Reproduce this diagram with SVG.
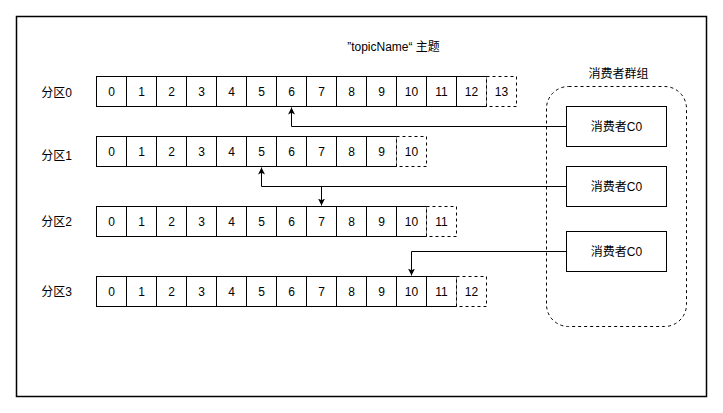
<svg xmlns="http://www.w3.org/2000/svg" width="723" height="413" viewBox="0 0 723 413">
<style>
text{font-family:"Liberation Sans","Noto Sans CJK SC",sans-serif;font-size:12px;fill:#000;text-anchor:middle;dominant-baseline:central}
.c{fill:#fff;stroke:#000;stroke-width:1}
.d{fill:#fff;stroke:#000;stroke-width:1;stroke-dasharray:3 3}
.e{fill:none;stroke:#000;stroke-width:1}
</style>
<defs>
<marker id="a" markerWidth="8" markerHeight="8" refX="7" refY="4" orient="auto" markerUnits="userSpaceOnUse">
<path d="M0,0.5 L7,4 L0,7.5 L1.8,4 Z" fill="#000"/>
</marker>
</defs>
<rect width="723" height="413" fill="#fff"/>
<g transform="translate(0.5,0.5)">
<g id="frame"><rect x="16" y="16" width="690" height="380" fill="none" stroke="#000" stroke-width="1.5"/></g>
<g id="title"><text x="393" y="46">”topicName“ 主题</text></g>
<g id="group">
<rect x="546" y="86" width="140" height="240" rx="22" class="d" fill="none"/>
<text x="618" y="73">消费者群组</text>
</g>
<g id="p0">
<text x="56" y="92">分区0</text>
<rect class="c" x="96" y="76" width="30" height="30"/><text x="111" y="91">0</text>
<rect class="c" x="126" y="76" width="30" height="30"/><text x="141" y="91">1</text>
<rect class="c" x="156" y="76" width="30" height="30"/><text x="171" y="91">2</text>
<rect class="c" x="186" y="76" width="30" height="30"/><text x="201" y="91">3</text>
<rect class="c" x="216" y="76" width="30" height="30"/><text x="231" y="91">4</text>
<rect class="c" x="246" y="76" width="30" height="30"/><text x="261" y="91">5</text>
<rect class="c" x="276" y="76" width="30" height="30"/><text x="291" y="91">6</text>
<rect class="c" x="306" y="76" width="30" height="30"/><text x="321" y="91">7</text>
<rect class="c" x="336" y="76" width="30" height="30"/><text x="351" y="91">8</text>
<rect class="c" x="366" y="76" width="30" height="30"/><text x="381" y="91">9</text>
<rect class="c" x="396" y="76" width="30" height="30"/><text x="411" y="91">10</text>
<rect class="c" x="426" y="76" width="30" height="30"/><text x="441" y="91">11</text>
<rect class="c" x="456" y="76" width="30" height="30"/><text x="471" y="91">12</text>
<rect class="d" x="486" y="76" width="30" height="30"/><text x="501" y="91">13</text>
</g>
<g id="p1">
<text x="56" y="155">分区1</text>
<rect class="c" x="96" y="136" width="30" height="30"/><text x="111" y="151">0</text>
<rect class="c" x="126" y="136" width="30" height="30"/><text x="141" y="151">1</text>
<rect class="c" x="156" y="136" width="30" height="30"/><text x="171" y="151">2</text>
<rect class="c" x="186" y="136" width="30" height="30"/><text x="201" y="151">3</text>
<rect class="c" x="216" y="136" width="30" height="30"/><text x="231" y="151">4</text>
<rect class="c" x="246" y="136" width="30" height="30"/><text x="261" y="151">5</text>
<rect class="c" x="276" y="136" width="30" height="30"/><text x="291" y="151">6</text>
<rect class="c" x="306" y="136" width="30" height="30"/><text x="321" y="151">7</text>
<rect class="c" x="336" y="136" width="30" height="30"/><text x="351" y="151">8</text>
<rect class="c" x="366" y="136" width="30" height="30"/><text x="381" y="151">9</text>
<rect class="d" x="396" y="136" width="30" height="30"/><text x="411" y="151">10</text>
</g>
<g id="p2">
<text x="56" y="221">分区2</text>
<rect class="c" x="96" y="206" width="30" height="30"/><text x="111" y="221">0</text>
<rect class="c" x="126" y="206" width="30" height="30"/><text x="141" y="221">1</text>
<rect class="c" x="156" y="206" width="30" height="30"/><text x="171" y="221">2</text>
<rect class="c" x="186" y="206" width="30" height="30"/><text x="201" y="221">3</text>
<rect class="c" x="216" y="206" width="30" height="30"/><text x="231" y="221">4</text>
<rect class="c" x="246" y="206" width="30" height="30"/><text x="261" y="221">5</text>
<rect class="c" x="276" y="206" width="30" height="30"/><text x="291" y="221">6</text>
<rect class="c" x="306" y="206" width="30" height="30"/><text x="321" y="221">7</text>
<rect class="c" x="336" y="206" width="30" height="30"/><text x="351" y="221">8</text>
<rect class="c" x="366" y="206" width="30" height="30"/><text x="381" y="221">9</text>
<rect class="c" x="396" y="206" width="30" height="30"/><text x="411" y="221">10</text>
<rect class="d" x="426" y="206" width="30" height="30"/><text x="441" y="221">11</text>
</g>
<g id="p3">
<text x="56" y="291">分区3</text>
<rect class="c" x="96" y="276" width="30" height="30"/><text x="111" y="291">0</text>
<rect class="c" x="126" y="276" width="30" height="30"/><text x="141" y="291">1</text>
<rect class="c" x="156" y="276" width="30" height="30"/><text x="171" y="291">2</text>
<rect class="c" x="186" y="276" width="30" height="30"/><text x="201" y="291">3</text>
<rect class="c" x="216" y="276" width="30" height="30"/><text x="231" y="291">4</text>
<rect class="c" x="246" y="276" width="30" height="30"/><text x="261" y="291">5</text>
<rect class="c" x="276" y="276" width="30" height="30"/><text x="291" y="291">6</text>
<rect class="c" x="306" y="276" width="30" height="30"/><text x="321" y="291">7</text>
<rect class="c" x="336" y="276" width="30" height="30"/><text x="351" y="291">8</text>
<rect class="c" x="366" y="276" width="30" height="30"/><text x="381" y="291">9</text>
<rect class="c" x="396" y="276" width="30" height="30"/><text x="411" y="291">10</text>
<rect class="c" x="426" y="276" width="30" height="30"/><text x="441" y="291">11</text>
<rect class="d" x="456" y="276" width="30" height="30"/><text x="471" y="291">12</text>
</g>
<g id="c1"><rect class="c" x="566" y="106" width="100" height="40"/><text x="616" y="126">消费者C0</text></g>
<g id="c2"><rect class="c" x="566" y="166" width="100" height="40"/><text x="616" y="186">消费者C0</text></g>
<g id="c3"><rect class="c" x="566" y="231" width="100" height="40"/><text x="616" y="251">消费者C0</text></g>
<g id="connectors">
<path class="e" d="M566,126 H291 V107" marker-end="url(#a)"/>
<path class="e" d="M566,186 H261 V167" marker-end="url(#a)"/>
<path class="e" d="M321,186 V205" marker-end="url(#a)"/>
<path class="e" d="M566,251 H411 V275" marker-end="url(#a)"/>
</g>
</g>
</svg>
